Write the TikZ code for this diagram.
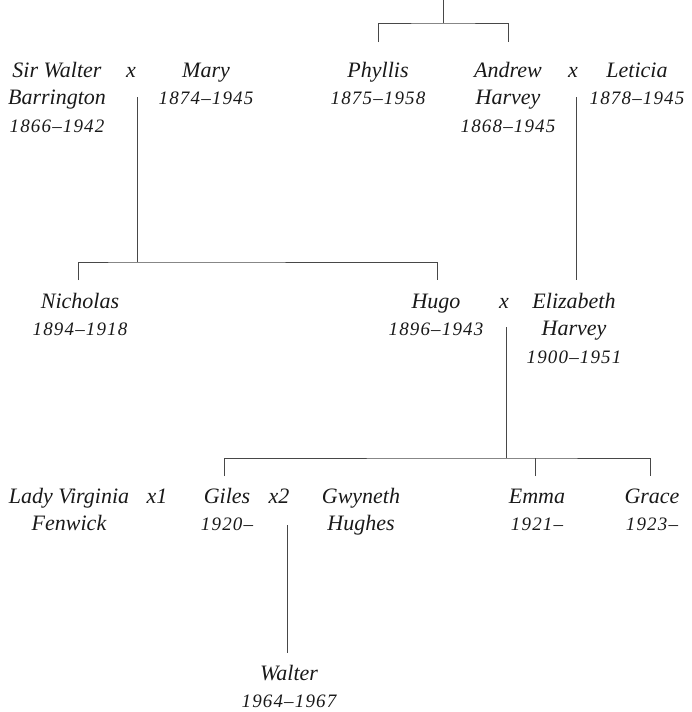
\documentclass[tikz,border=0pt]{standalone}
\usepackage{fontspec}
\setmainfont{Liberation Serif}
\newfontfamily\datefont{Liberation Serif}[LetterSpace=6]
\newcommand{\dt}[1]{{\datefont\itshape\fontsize{19}{27.5}\selectfont #1}}
\tikzset{
  person/.style={anchor=base, align=center, inner sep=0pt, text=black!90,
    font=\itshape\fontsize{22}{27.5}\selectfont},
  marr/.style={anchor=base, inner sep=0pt, text=black!90,
    font=\itshape\fontsize{22}{27.5}\selectfont},
  conn/.style={draw=black!72, line width=1pt}
}
\begin{document}
\begin{tikzpicture}[x=1pt,y=-1pt]
\useasboundingbox (0,0) rectangle (691,712);
% Row 1 (node positions give the baseline of the last line)
\node[person] (walter) at (57,132) {Sir Walter\\Barrington\\\dt{1866–1942}};
\node[marr] (xa) at (131,77) {x};
\node[person] (mary) at (206,104.5) {Mary\\\dt{1874–1945}};
\node[person] (phyllis) at (378,104.5) {Phyllis\\\dt{1875–1958}};
\node[person] (andrew) at (508,132) {Andrew\\Harvey\\\dt{1868–1945}};
\node[marr] (xb) at (573,77) {x};
\node[person] (leticia) at (637,104.5) {Leticia\\\dt{1878–1945}};
% Row 2
\node[person] (nicholas) at (80,335.5) {Nicholas\\\dt{1894–1918}};
\node[person] (hugo) at (436,335.5) {Hugo\\\dt{1896–1943}};
\node[marr] (xc) at (504,308) {x};
\node[person] (elizabeth) at (574,363) {Elizabeth\\Harvey\\\dt{1900–1951}};
% Row 3
\node[person] (virginia) at (69,530.5) {Lady Virginia\\Fenwick};
\node[marr] (xd) at (157,503) {x1};
\node[person] (giles) at (227,530.5) {Giles\\\dt{1920–}};
\node[marr] (xe) at (279,503) {x2};
\node[person] (gwyneth) at (361,530.5) {Gwyneth\\Hughes};
\node[person] (emma) at (537,530.5) {Emma\\\dt{1921–}};
\node[person] (grace) at (652,530.5) {Grace\\\dt{1923–}};
% Row 4
\node[person] (walterjr) at (289,707.5) {Walter\\\dt{1964–1967}};
% connectors
\coordinate (t0) at (443,0);
\coordinate (t1) at (443,23);
\coordinate (tl) at (378,42);
\coordinate (tr) at (508,42);
\draw[conn] (t0) -- (t1);
\draw[conn] (tl) |- (t1) -| (tr);
\coordinate (m1) at (137,97);
\coordinate (m1b) at (137,262);
\coordinate (c1a) at (78,280);
\coordinate (c1b) at (437,280);
\draw[conn] (m1) -- (m1b);
\draw[conn] (c1a) |- (m1b) -| (c1b);
\coordinate (m2) at (576,97);
\coordinate (m2b) at (576,280);
\draw[conn] (m2) -- (m2b);
\coordinate (m3) at (506,327);
\coordinate (m3b) at (506,458);
\coordinate (c3a) at (224,476);
\coordinate (c3b) at (535,476);
\coordinate (c3c) at (650,476);
\draw[conn] (m3) -- (m3b);
\draw[conn] (c3a) |- (m3b) -| (c3c);
\draw[conn] (c3b) -- (c3b |- m3b);
\coordinate (m4) at (287,525);
\coordinate (m4b) at (287,653);
\draw[conn] (m4) -- (m4b);
\end{tikzpicture}
\end{document}
